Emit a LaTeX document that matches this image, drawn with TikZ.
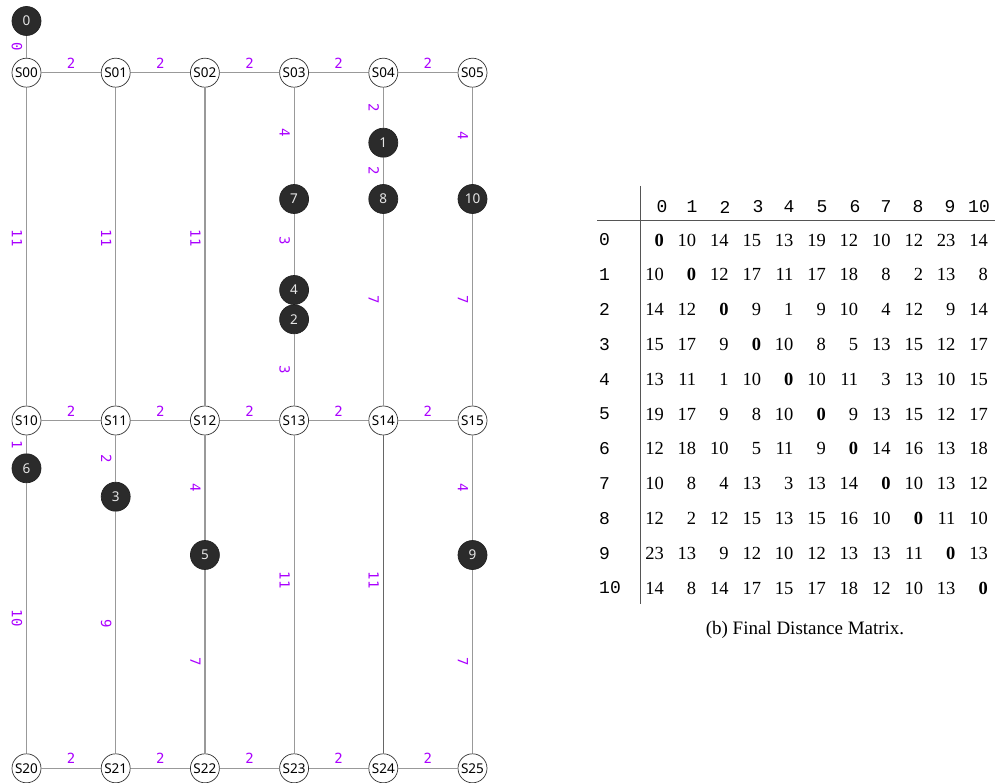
\documentclass[tikz,border=0pt]{standalone}
\usepackage{fontspec}
\setmainfont{Liberation Serif}
\newfontfamily\nodefont{Noto Sans}
\newfontfamily\lblfont{DejaVu Sans Mono}
\newfontfamily\hdrfont{Liberation Mono}
\definecolor{darkfill}{HTML}{2B2B2B}
\definecolor{lighttext}{HTML}{E6E6E6}
\definecolor{wcol}{HTML}{AA00FF}
\definecolor{edgegray}{HTML}{999999}
\definecolor{rulegray}{HTML}{555555}
\tikzset{
  snode/.style={circle, draw=black!80, fill=white, line width=0.7pt, minimum size=29pt, inner sep=0pt, font=\nodefont\fontsize{13.5}{13.5}\selectfont},
  dnode/.style={circle, draw=darkfill!80!black, fill=darkfill, line width=0.7pt, minimum size=29pt, inner sep=0pt, text=lighttext, font=\nodefont\fontsize{13.5}{13.5}\selectfont},
  edge/.style={draw=edgegray, line width=1.2pt},
  darkedge/.style={draw=black!60, line width=1.5pt},
  wl/.style={text=wcol, inner sep=0pt, font=\lblfont\fontsize{14}{14}\selectfont},
  hl/.style={wl, midway, yshift=9.6pt},
  vl/.style={wl, xshift=-9.5pt, rotate=-90},
  cell/.style={anchor=east, inner sep=0pt, font=\fontsize{18.5}{20}\selectfont},
  hdr/.style={inner sep=0pt, font=\hdrfont\fontsize{18}{20}\selectfont},
  rowlab/.style={anchor=west, inner sep=0pt, font=\hdrfont\fontsize{18}{20}\selectfont},
  tabrule/.style={draw=rulegray, line width=1pt},
  caption/.style={inner sep=0pt, font=\fontsize{19}{21}\selectfont}
}
\begin{document}
\begin{tikzpicture}[x=1pt,y=-1pt]
\useasboundingbox (0,0) rectangle (995,783);

% station nodes
\foreach \r/\y in {0/72.7,1/420.5,2/768.3}{
  \foreach \c/\x in {0/26.5,1/115.7,2/204.9,3/294.1,4/383.3,5/472.5}{
    \node[snode] (S\r\c) at (\x,\y) {S\r\c};
  }
}

% dark nodes
\node[dnode] (d0) at (26.5,21) {0};
\node[dnode] (d1) at (383.3,142.7) {1};
\node[dnode] (d7) at (294.1,199) {7};
\node[dnode] (d8) at (383.3,199) {8};
\node[dnode] (d10) at (472.5,199) {10};
\node[dnode] (d4) at (294.1,290) {4};
\node[dnode] (d2) at (294.1,319.3) {2};
\node[dnode] (d6) at (26.5,468.3) {6};
\node[dnode] (d3) at (115.7,496.7) {3};
\node[dnode] (d5) at (204.9,555) {5};
\node[dnode] (d9) at (472.5,555) {9};

% horizontal edges
\foreach \r in {0,1,2}{
  \foreach \c [evaluate=\c as \n using int(\c+1)] in {0,...,4}{
    \draw[edge] (S\r\c) -- node[hl]{2} (S\r\n);
  }
}

% vertical edges
\draw[edge] (d0) -- node[midway,vl]{0} (S00);
\draw[edge] (S00) -- node[pos=0.473,vl]{11} (S10);
\draw[edge] (S01) -- node[pos=0.473,vl]{11} (S11);
\draw[edge] (S02) -- node[pos=0.473,vl]{11} (S12);
\draw[edge] (S03) -- node[pos=0.47,vl]{4} (d7);
\draw[edge] (d7) -- node[pos=0.44,vl]{3} (d4);
\draw[edge] (d2) -- node[midway,vl]{3} (S13);
\draw[edge] (S04) -- node[midway,vl]{2} (d1);
\draw[edge] (d1) -- node[midway,vl]{2} (d8);
\draw[edge] (d8) -- node[pos=0.45,vl]{7} (S14);
\draw[edge] (S05) -- node[midway,vl]{4} (d10);
\draw[edge] (d10) -- node[pos=0.45,vl]{7} (S15);
\draw[edge] (S10) -- node[midway,vl]{1} (d6);
\draw[edge] (d6) -- node[midway,vl]{10} (S20);
\draw[edge] (S11) -- node[midway,vl]{2} (d3);
\draw[edge] (d3) -- node[pos=0.465,vl]{9} (S21);
\draw[edge] (S12) -- node[midway,vl]{4} (d5);
\draw[edge] (d5) -- node[midway,vl]{7} (S22);
\draw[edge] (S13) -- node[pos=0.455,vl]{11} (S23);
\draw[darkedge] (S14) -- node[pos=0.455,vl]{11} (S24);
\draw[edge] (S15) -- node[midway,vl]{4} (d9);
\draw[edge] (d9) -- node[midway,vl]{7} (S25);

% distance matrix
\coordinate (vtop) at (640,186);
\coordinate (vbot) at (640,604);
\coordinate (hleft) at (597,221);
\coordinate (hright) at (995,221);
\draw[tabrule] (vtop) -- (vbot);
\draw[tabrule] (hleft) -- (hright);

\foreach \c/\x in {0/662,1/692,2/725,3/758,4/789,5/822,6/855,7/886,8/918,9/950,10/979}{
  \node[hdr] (h\c) at (\x,207) {\c};
}

\foreach \r/\vals in {
  0/{0,10,14,15,13,19,12,10,12,23,14},
  1/{10,0,12,17,11,17,18,8,2,13,8},
  2/{14,12,0,9,1,9,10,4,12,9,14},
  3/{15,17,9,0,10,8,5,13,15,12,17},
  4/{13,11,1,10,0,10,11,3,13,10,15},
  5/{19,17,9,8,10,0,9,13,15,12,17},
  6/{12,18,10,5,11,9,0,14,16,13,18},
  7/{10,8,4,13,3,13,14,0,10,13,12},
  8/{12,2,12,15,13,15,16,10,0,11,10},
  9/{23,13,9,12,10,12,13,13,11,0,13},
  10/{14,8,14,17,15,17,18,12,10,13,0}}{
  \node[rowlab] (r\r) at (599,{240+34.8*\r}) {\r};
  \foreach \v [count=\cc from 0] in \vals {
    \node[cell] (m-\r-\cc) at ({664+32.4*\cc},{240+34.8*\r}) {\ifnum\r=\cc\relax\textbf{\v}\else\v\fi};
  }
}

\node[caption] (cap) at (805,630) {(b) Final Distance Matrix.};
\end{tikzpicture}
\end{document}
